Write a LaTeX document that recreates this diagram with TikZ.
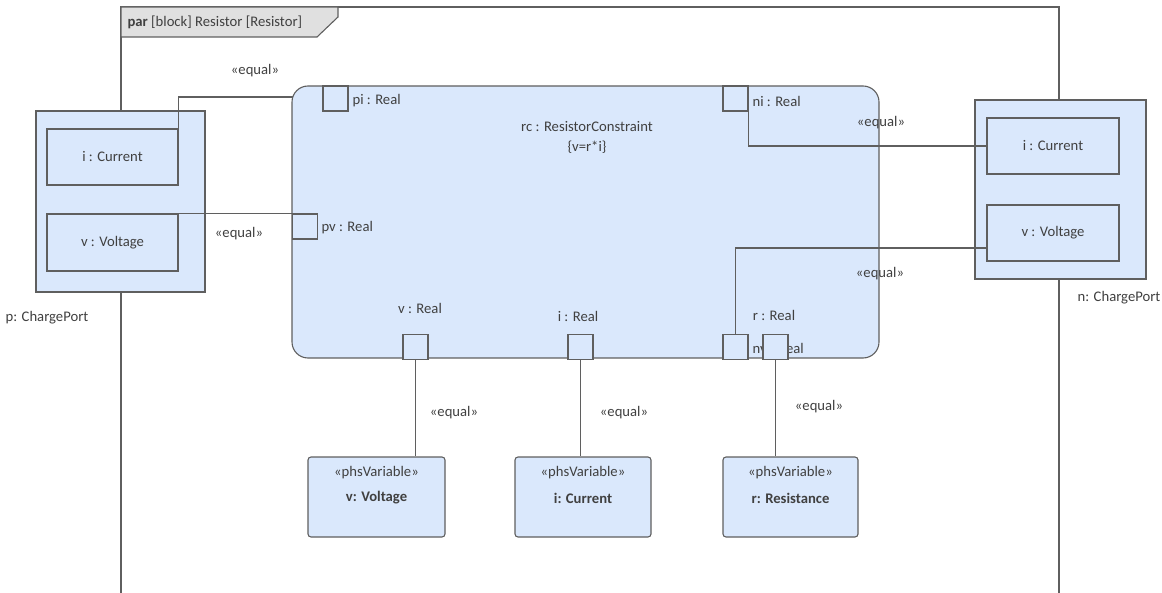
\documentclass[tikz,border=0pt]{standalone}
\usepackage{fontspec}
\setmainfont{Carlito}
\definecolor{linea}{RGB}{95,95,95}
\definecolor{testo}{RGB}{64,64,64}
\definecolor{riemp}{RGB}{218,232,252}
\definecolor{linguetta}{RGB}{224,224,224}
\tikzset{
  parte/.style={draw=linea, fill=riemp, inner sep=0pt},
  porta/.style={parte, minimum size=25pt},
  etich/.style={inner sep=0pt},
}
\begin{document}
\begin{tikzpicture}[x=1pt,y=-1pt,line width=1.1pt]
  \clip (0,0) rectangle (1162,593);
  \begin{scope}[font=\fontsize{14.67}{17}\selectfont, text=testo]
    \draw[linea] (121,600) -- (121,7) -- (1059,7) -- (1059,600);
    \filldraw[draw=linea, fill=linguetta] (121,7) -- (338,7) -- (338,17) -- (317,37) -- (121,37) -- cycle;
    \node[etich, anchor=west] (titolo) at (127,22) {\textbf{par} [block] Resistor [Resistor]};

    \node[parte, minimum width=169pt, minimum height=181pt] (portp) at (120.5,201.5) {};
    \node[parte, minimum width=131pt, minimum height=56pt] (pcur) at (112.5,157) {i : Current};
    \node[parte, minimum width=131pt, minimum height=57pt] (pvol) at (112.5,242.5) {v : Voltage};
    \node[etich] (nomep) at (47,318) {p: ChargePort};

    \node[parte, minimum width=171pt, minimum height=179pt] (portn) at (1060.5,189.5) {};
    \node[parte, minimum width=132pt, minimum height=56pt] (ncur) at (1053,146) {i : Current};
    \node[parte, minimum width=132pt, minimum height=56pt] (nvol) at (1053,233) {v : Voltage};
    \node[etich] (nomen) at (1119,298) {n: ChargePort};

    \coordinate (ango) at (335.5,97);
    \draw[linea] (pcur.north east) |- (ango);
    \draw[linea] (pvol.north east) -- (pvol.north east -| 293,0);

    \node[parte, rounded corners=16pt, minimum width=587pt, minimum height=272pt] (rc) at (585.5,222) {};
    \node[etich] (nomerc) at (587,127) {rc : ResistorConstraint};
    \node[etich] (vincolo) at (587,147) {\{v=r*i\}};

    \node[etich, anchor=west] (tpi) at (352,101) {pi : Real};
    \node[etich, anchor=west] (tni) at (752,101) {ni : Real};
    \node[etich, anchor=west] (tpv) at (321,228) {pv : Real};
    \node[etich] (tv) at (420,308) {v : Real};
    \node[etich] (ti) at (578,316) {i : Real};
    \node[etich] (tr) at (774,315) {r : Real};
    \node[etich, anchor=west] (tnv) at (752,348) {nv : Real};

    \node[porta] (sqpi) at (335.5,98.5) {};
    \node[porta] (sqni) at (735.5,98.5) {};
    \node[porta] (sqpv) at (305,226.5) {};
    \node[porta] (sqv) at (415.5,347) {};
    \node[porta] (sqi) at (580.5,347) {};
    \node[porta] (sqnv) at (735.5,347) {};
    \node[porta] (sqr) at (775.5,347) {};

    \draw[linea] (sqni.south east) |- (ncur.west);
    \draw[linea] (sqnv.north) |- ([yshift=-15pt]nvol.west);

    \node[parte, rounded corners=3pt, minimum width=137pt, minimum height=80pt] (varv) at (376.5,497) {};
    \node[parte, rounded corners=3pt, minimum width=136pt, minimum height=80pt] (vari) at (583,497) {};
    \node[parte, rounded corners=3pt, minimum width=135pt, minimum height=80pt] (varr) at (790.5,497) {};
    \node[etich] (stv) at (376.5,473) {«phsVariable»};
    \node[etich] (nmv) at (376.5,498) {\textbf{v: Voltage}};
    \node[etich] (sti) at (583,473) {«phsVariable»};
    \node[etich] (nmi) at (583,498) {\textbf{i: Current}};
    \node[etich] (str) at (790.5,473) {«phsVariable»};
    \node[etich] (nmr) at (790.5,498) {\textbf{r: Resistance}};

    \draw[linea] (sqv.south) -- (sqv.south |- varv.north);
    \draw[linea] (sqi.south) -- (sqi.south |- vari.north);
    \draw[linea] (sqr.south) -- (sqr.south |- varr.north);

    \node[etich] (eq1) at (255,71) {«equal»};
    \node[etich] (eq2) at (239,234) {«equal»};
    \node[etich] (eq3) at (881,123) {«equal»};
    \node[etich] (eq4) at (880,274) {«equal»};
    \node[etich] (eq5) at (454,413) {«equal»};
    \node[etich] (eq6) at (624,413) {«equal»};
    \node[etich] (eq7) at (819,407) {«equal»};
  \end{scope}
\end{tikzpicture}
\end{document}
